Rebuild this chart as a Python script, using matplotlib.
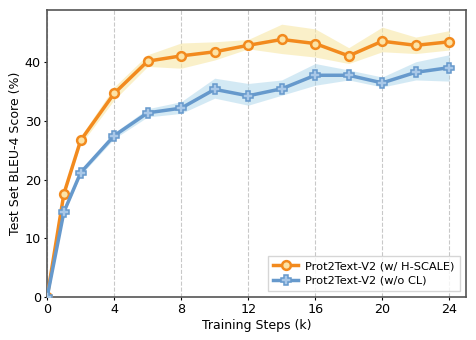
import matplotlib
matplotlib.use("Agg")
import matplotlib.pyplot as plt
import numpy as np

# training steps (k)
steps = [0, 1, 2, 4, 6, 8, 10, 12, 14, 16, 18, 20, 22, 24]

# Prot2Text-V2 (w/ H-SCALE)
hscale_mean = [0, 17.6, 26.7, 34.7, 40.2, 41.1, 41.8, 42.9, 43.9, 43.2, 41.1, 43.6, 42.9, 43.5]
hscale_low = [0, 17.3, 26.0, 33.6, 39.3, 39.0, 40.4, 42.3, 41.5, 40.9, 39.8, 41.8, 41.5, 42.1]
hscale_high = [0, 17.9, 27.4, 35.8, 41.3, 43.3, 43.5, 43.9, 46.5, 45.7, 42.5, 46.0, 44.3, 45.4]

# Prot2Text-V2 (w/o CL)
nocl_mean = [0, 14.5, 21.2, 27.5, 31.4, 32.2, 35.4, 34.3, 35.5, 37.8, 37.8, 36.5, 38.3, 39.1]
nocl_low = [0, 14.3, 20.8, 27.0, 30.7, 31.3, 33.9, 32.7, 34.4, 36.1, 37.0, 35.8, 37.0, 36.8]
nocl_high = [0, 14.7, 21.6, 28.0, 32.1, 33.3, 37.3, 36.4, 37.0, 39.8, 38.7, 37.5, 40.1, 41.3]

xticks = [0, 4, 8, 12, 16, 20, 24]
yticks = [0, 10, 20, 30, 40]

orange = "#F28A1E"
blue = "#6699CC"

fig = plt.figure(figsize=(4.76, 3.40), dpi=100)
ax = fig.add_axes([0.099, 0.126, 0.880, 0.846])

ax.fill_between(steps, hscale_low, hscale_high, color="#F7E7A6", alpha=0.6, linewidth=0, zorder=1)
ax.fill_between(steps, nocl_low, nocl_high, color="#A9D4EA", alpha=0.5, linewidth=0, zorder=1)

ax.plot(steps, hscale_mean, color=orange, lw=2.5, marker="o", ms=6.3,
        mfc="#FCE3A6", mec=orange, mew=1.8, label="Prot2Text-V2 (w/ H-SCALE)", zorder=3)
ax.plot(steps, nocl_mean, color=blue, lw=2.5, marker="P", ms=7.2,
        mfc="#A9C8E8", mec=blue, mew=1.1, label="Prot2Text-V2 (w/o CL)", zorder=3)

ax.set_xlim(0, 25)
ax.set_ylim(0, 49)
ax.set_xticks(xticks)
ax.set_yticks(yticks)
ax.tick_params(labelsize=9.2, length=2.5, pad=2)
ax.grid(axis="x", linestyle="--", color="#BBBBBB", linewidth=0.8, alpha=0.8)
ax.set_axisbelow(True)
for sp in ax.spines.values():
    sp.set_color("#555555")
    sp.set_linewidth(1.2)

ax.set_xlabel("Training Steps (k)", fontsize=9, labelpad=2)
ax.set_ylabel("Test Set BLEU-4 Score (%)", fontsize=9, labelpad=2)
ax.legend(loc="lower right", fontsize=8.2, frameon=True, fancybox=False,
          edgecolor="#CCCCCC", borderpad=0.5, handlelength=2.2,
          handletextpad=0.6, labelspacing=0.4)

fig.savefig("out.png", dpi=100)
